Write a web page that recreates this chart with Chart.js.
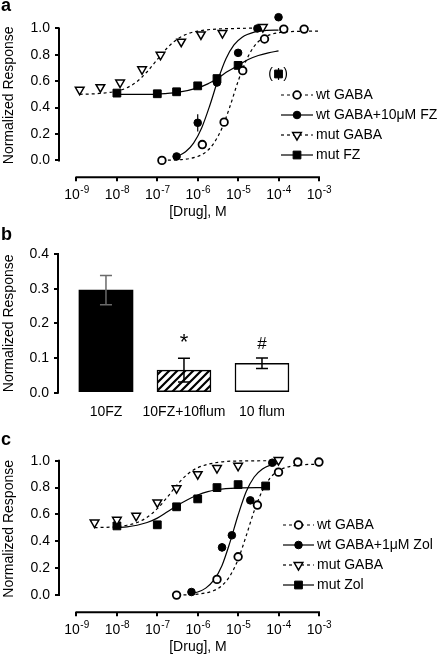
<!DOCTYPE html>
<html lang="en">
<head>
<meta charset="utf-8">
<title>GABA concentration-response</title>
<script src="https://cdn.jsdelivr.net/npm/chart.js@4.4.1/dist/chart.umd.min.js"></script>
<style>
  html, body { margin: 0; padding: 0; background: #fff; }
  body { position: relative; width: 442px; height: 658px; overflow: hidden; }
  canvas { position: absolute; left: 0; }
</style>
</head>
<body>
<canvas id="panelA" width="442" height="222" style="top:0"></canvas>
<canvas id="panelB" width="442" height="208" style="top:220px"></canvas>
<canvas id="panelC" width="442" height="226" style="top:432px"></canvas>
<script>
// ---------- shared ticks ----------
const doseTicks = [1e-9, 1e-8, 1e-7, 1e-6, 1e-5, 1e-4, 1e-3];
const doseTickExp = ['-9', '-8', '-7', '-6', '-5', '-4', '-3'];
const responseTicks = [0, 0.2, 0.4, 0.6, 0.8, 1.0];

// ---------- panel a : FZ ----------
const aWtGabaX = [1.3e-7, 1.3e-6, 4.5e-6, 1.3e-5, 4.5e-5, 1.35e-4, 4.3e-4];
const aWtGabaY = [0.0, 0.12, 0.29, 0.68, 0.92, 0.995, 0.995];
const aWtFzX = [3e-7, 1e-6, 3e-6, 1e-5, 3e-5, 1e-4];
const aWtFzY = [0.03, 0.285, 0.59, 0.815, 1.0, 1.085];
const aWtFzErr = [0, 0.065, 0, 0, 0, 0.025];
const aMutGabaX = [1.2e-9, 3.9e-9, 1.2e-8, 4.2e-8, 1.2e-7, 3.9e-7, 1.2e-6, 4.1e-6, 4.1e-5];
const aMutGabaY = [0.535, 0.555, 0.59, 0.69, 0.80, 0.90, 0.955, 0.965, 1.01];
const aMutFzX = [1e-8, 1e-7, 3e-7, 1e-6, 3e-6, 1e-5, 1e-4];
const aMutFzY = [0.51, 0.505, 0.52, 0.565, 0.62, 0.72, 0.655];
const aMutFzErr = [0, 0, 0, 0.02, 0, 0, 0.045];
const aMutFzExcluded = [false, false, false, false, false, false, true];

// fitted curves
const aWtGabaFitX = [1.3e-7, 4e-7, 1e-6, 1.6e-6, 2.5e-6, 4e-6, 6.3e-6, 1e-5, 1.6e-5, 2.5e-5, 4e-5, 1e-4, 3.2e-4, 1e-3];
const aWtGabaFitY = [0.001, 0.006, 0.03, 0.064, 0.13, 0.245, 0.41, 0.60, 0.76, 0.865, 0.925, 0.968, 0.978, 0.98];
const aWtFzFitX = [3.16e-7, 5e-7, 7.9e-7, 1.26e-6, 2e-6, 3.16e-6, 5e-6, 7.9e-6, 1.26e-5, 2.5e-5, 5e-5, 1e-4];
const aWtFzFitY = [0.031, 0.065, 0.131, 0.248, 0.418, 0.609, 0.77, 0.875, 0.934, 0.972, 0.985, 0.988];
const aMutGabaFitX = [1.2e-9, 3.16e-9, 1e-8, 1.78e-8, 3.16e-8, 5.6e-8, 1e-7, 1.78e-7, 3.16e-7, 5.6e-7, 1e-6, 3.16e-6, 1e-5, 4.1e-5];
const aMutGabaFitY = [0.501, 0.506, 0.525, 0.551, 0.598, 0.672, 0.765, 0.854, 0.92, 0.959, 0.98, 0.996, 1.0, 1.005];
const aMutFzFitX = [1e-8, 3.16e-8, 1e-7, 3.16e-7, 1e-6, 1.78e-6, 3.16e-6, 5.6e-6, 1e-5, 1.78e-5, 3.16e-5, 5.6e-5, 1e-4];
const aMutFzFitY = [0.50, 0.50, 0.503, 0.515, 0.55, 0.58, 0.625, 0.675, 0.72, 0.765, 0.795, 0.815, 0.83];

// ---------- panel b : flumazenil ----------
const bCats = ['10FZ', '10FZ+10flum', '10 flum'];
const bMean = [0.296, 0.065, 0.085];
const bSem = [0.042, 0.034, 0.015];
const bMarks = ['', '*', '#'];
const bTicks = [0, 0.1, 0.2, 0.3, 0.4];

// ---------- panel c : Zol ----------
const cWtGabaX = [3e-7, 3e-6, 1e-5, 3e-5, 1e-4, 3e-4, 1e-3];
const cWtGabaY = [0.0, 0.117, 0.285, 0.67, 0.915, 0.99, 0.99];
const cWtZolX = [7e-7, 4e-6, 7e-6, 2e-5, 7e-5];
const cWtZolY = [0.023, 0.355, 0.445, 0.705, 0.985];
const cWtZolErr = [0, 0.03, 0, 0.015, 0];
const cMutGabaX = [2.8e-9, 1e-8, 3e-8, 1e-7, 3e-7, 1e-6, 3e-6, 1e-5, 1e-4];
const cMutGabaY = [0.54, 0.56, 0.59, 0.69, 0.795, 0.90, 0.945, 0.962, 1.005];
const cMutZolX = [1e-8, 1e-7, 3e-7, 1e-6, 3e-6, 1e-5, 4.8e-5];
const cMutZolY = [0.515, 0.523, 0.657, 0.716, 0.80, 0.822, 0.812];
const cMutZolErr = [0, 0, 0, 0, 0, 0.02, 0.02];

const cWtGabaFitX = [3.16e-7, 1e-6, 2.5e-6, 4e-6, 6.3e-6, 1e-5, 1.58e-5, 2.5e-5, 4e-5, 6.3e-5, 1e-4, 2e-4, 4e-4, 1e-3];
const cWtGabaFitY = [0.001, 0.007, 0.034, 0.071, 0.143, 0.266, 0.44, 0.627, 0.778, 0.874, 0.926, 0.959, 0.97, 0.974];
const cWtZolFitX = [6.9e-7, 1e-6, 1.58e-6, 2.5e-6, 4e-6, 6.3e-6, 1e-5, 1.58e-5, 2.5e-5, 4e-5, 6.3e-5, 1e-4];
const cWtZolFitY = [0.012, 0.023, 0.052, 0.111, 0.221, 0.394, 0.596, 0.769, 0.879, 0.938, 0.967, 0.98];
const cMutGabaFitX = [2.8e-9, 1e-8, 1.78e-8, 3.16e-8, 5.6e-8, 1e-7, 1.78e-7, 3.16e-7, 5.6e-7, 1e-6, 3.16e-6, 1e-5, 1e-4];
const cMutGabaFitY = [0.502, 0.509, 0.52, 0.54, 0.579, 0.643, 0.73, 0.824, 0.90, 0.948, 0.988, 0.998, 1.0];
const cMutZolFitX = [1e-8, 1.78e-8, 3.16e-8, 5.6e-8, 1e-7, 1.78e-7, 3.16e-7, 5.6e-7, 1e-6, 1.78e-6, 3.16e-6, 1e-5, 4.8e-5];
const cMutZolFitY = [0.502, 0.508, 0.52, 0.54, 0.573, 0.62, 0.668, 0.71, 0.745, 0.77, 0.786, 0.797, 0.80];

// =============================================
// styles + plugins
// =============================================
const FAMILY = '"Liberation Sans", Arial, Helvetica, sans-serif';
const FONT = { family: FAMILY, size: 14 };
Chart.defaults.font.family = FAMILY;
Chart.defaults.color = '#000';

const markers = {
  openCircle: { pointStyle: 'circle', pointRadius: 3.8, pointBackgroundColor: '#fff', pointBorderWidth: 1.8, pointRotation: 0 },
  dot: { pointStyle: 'circle', pointRadius: 3.8, pointBackgroundColor: '#000', pointBorderWidth: 1, pointRotation: 0 },
  openTriangle: { pointStyle: 'triangle', pointRadius: 5, pointBackgroundColor: '#fff', pointBorderWidth: 1.5, pointRotation: 180 },
  square: { pointStyle: 'rect', pointRadius: 5.5, pointBackgroundColor: '#000', pointBorderWidth: 1, pointRotation: 0 }
};

// axis lines only span first..last tick (offset axes look)
const axisLines = {
  id: 'axisLines',
  afterDraw(chart, args, o) {
    const { ctx, chartArea: a, scales } = chart;
    ctx.save();
    ctx.strokeStyle = '#000';
    ctx.lineWidth = 2;
    (o.axes || ['x', 'y']).forEach(k => {
      const s = scales[k], t = s.ticks;
      const p0 = s.getPixelForValue(t[0].value);
      const p1 = s.getPixelForValue(t[t.length - 1].value);
      ctx.beginPath();
      if (k === 'x') { ctx.moveTo(p0 - 1, a.bottom); ctx.lineTo(p1 + 1, a.bottom); }
      else { ctx.moveTo(a.left, p0 + 1); ctx.lineTo(a.left, p1 - 1); }
      ctx.stroke();
    });
    ctx.restore();
  }
};

// "10" with raised exponent
const doseLabels = {
  id: 'doseLabels',
  afterDraw(chart) {
    const { ctx, chartArea: a, scales: { x } } = chart;
    const yc = a.bottom + 17.5;
    ctx.save();
    ctx.fillStyle = '#000';
    ctx.textBaseline = 'middle';
    ctx.textAlign = 'left';
    doseTicks.forEach((v, i) => {
      const px = x.getPixelForValue(v);
      ctx.font = `14px ${FAMILY}`;
      const wBase = ctx.measureText('10').width;
      ctx.font = `10px ${FAMILY}`;
      const wExp = ctx.measureText(doseTickExp[i]).width;
      const x0 = px - (wBase + wExp) / 2;
      ctx.font = `14px ${FAMILY}`;
      ctx.fillText('10', x0, yc);
      ctx.font = `10px ${FAMILY}`;
      ctx.fillText(doseTickExp[i], x0 + wBase + 0.5, yc - 5);
    });
    ctx.restore();
  }
};

const errorBars = {
  id: 'errorBars',
  beforeDatasetsDraw(chart) {
    const { ctx, scales: { x, y } } = chart;
    ctx.save();
    ctx.strokeStyle = '#000';
    ctx.fillStyle = '#000';
    ctx.lineWidth = 1.2;
    chart.data.datasets.forEach(ds => {
      ds.data.forEach((p, i) => {
        const px = x.getPixelForValue(p.x);
        const e = ds.err ? ds.err[i] : 0;
        if (e) {
          ctx.beginPath();
          ctx.moveTo(px, y.getPixelForValue(p.y - e));
          ctx.lineTo(px, y.getPixelForValue(p.y + e));
          ctx.stroke();
        }
        if (ds.excluded && ds.excluded[i]) {
          const py = y.getPixelForValue(p.y);
          ctx.font = `14px ${FAMILY}`;
          ctx.textAlign = 'center';
          ctx.textBaseline = 'middle';
          ctx.fillText('(', px - 8, py);
          ctx.fillText(')', px + 7, py);
        }
      });
    });
    ctx.restore();
  }
};

// legend: dashed/solid line with the marker in the middle
const curveLegend = {
  id: 'curveLegend',
  afterDraw(chart, args, o) {
    const { ctx } = chart;
    const sets = chart.data.datasets;
    const n = sets.length / 2;
    ctx.save();
    for (let i = 0; i < n; i++) {
      const pts = sets[i], fit = sets[i + n];
      const y = o.y0 + i * o.dy;
      ctx.strokeStyle = '#000';
      ctx.lineWidth = 1.2;
      ctx.setLineDash(fit.borderDash || []);
      ctx.beginPath();
      ctx.moveTo(o.x0, y);
      ctx.lineTo(o.x1, y);
      ctx.stroke();
      ctx.setLineDash([]);
      ctx.fillStyle = pts.pointBackgroundColor;
      ctx.lineWidth = pts.pointBorderWidth;
      Chart.helpers.drawPoint(ctx, {
        pointStyle: pts.pointStyle, rotation: pts.pointRotation,
        radius: pts.pointRadius, borderWidth: pts.pointBorderWidth
      }, (o.x0 + o.x1) / 2, y);
      ctx.fillStyle = '#000';
      ctx.font = `14px ${FAMILY}`;
      ctx.textAlign = 'left';
      ctx.textBaseline = 'middle';
      ctx.fillText(pts.label, o.tx, y);
    }
    ctx.restore();
  }
};

const panelTag = {
  id: 'panelTag',
  afterDraw(chart, args, o) {
    const { ctx } = chart;
    ctx.save();
    ctx.fillStyle = '#000';
    ctx.font = `bold 18px ${FAMILY}`;
    ctx.textBaseline = 'alphabetic';
    ctx.fillText(o.text, 1, o.y);
    ctx.restore();
  }
};

// =============================================
// dose-response panels (a, c)
// =============================================
function doseChart(id, cfg) {
  const pointSets = cfg.series.map(s => ({
    label: s.label,
    data: s.x.map((v, i) => ({ x: v, y: s.y[i] })),
    showLine: false,
    pointBorderColor: '#000',
    err: s.err,
    excluded: s.excluded,
    clip: false,
    ...markers[s.marker]
  }));
  const fitSets = cfg.series.map(s => ({
    data: s.fitX.map((v, i) => ({ x: v, y: s.fitY[i] })),
    showLine: true,
    borderColor: '#000',
    borderWidth: 1.2,
    borderDash: s.dashed ? [3, 3] : [],
    pointRadius: 0,
    cubicInterpolationMode: 'monotone',
    clip: false
  }));

  return new Chart(document.getElementById(id), {
    type: 'scatter',
    data: { datasets: [...pointSets, ...fitSets] },
    options: {
      responsive: false,
      animation: false,
      devicePixelRatio: 1,
      layout: { padding: { top: cfg.padTop, right: 105, bottom: 0, left: 0 } },
      plugins: {
        legend: { display: false },
        tooltip: { enabled: false },
        curveLegend: cfg.legend,
        panelTag: cfg.tag
      },
      scales: {
        x: {
          type: 'logarithmic',
          min: 3.69e-10,
          max: 2.8e-3,
          afterBuildTicks: s => { s.ticks = doseTicks.map(v => ({ value: v })); },
          afterFit: s => { s.height = cfg.xHeight; },
          grid: { drawOnChartArea: false, drawTicks: true, tickLength: 4, color: '#000', lineWidth: 2 },
          border: { display: false },
          ticks: { display: false },
          title: { display: true, text: '[Drug], M', font: FONT, color: '#000', padding: { top: 0, bottom: cfg.titlePad } }
        },
        y: {
          min: -0.128,
          max: 1.114,
          afterBuildTicks: s => { s.ticks = responseTicks.map(v => ({ value: v })); },
          afterFit: s => { s.width = 59; },
          grid: { drawOnChartArea: false, drawTicks: true, tickLength: 4, color: '#000', lineWidth: 2 },
          border: { display: false },
          ticks: { padding: 5, font: FONT, color: '#000', callback: v => v.toFixed(1) },
          title: { display: true, text: 'Normalized Response', font: FONT, color: '#000', padding: { top: 1, bottom: 0 } }
        }
      }
    },
    plugins: [errorBars, axisLines, doseLabels, curveLegend, panelTag]
  });
}

doseChart('panelA', {
  padTop: 1.9, xHeight: 44.7, titlePad: 1.6,
  legend: { x0: 281, x1: 313, tx: 316, y0: 95, dy: 20 },
  tag: { text: 'a', y: 11 },
  series: [
    { label: 'wt GABA', x: aWtGabaX, y: aWtGabaY, fitX: aWtGabaFitX, fitY: aWtGabaFitY, marker: 'openCircle', dashed: true },
    { label: 'wt GABA+10\u03bcM FZ', x: aWtFzX, y: aWtFzY, err: aWtFzErr, fitX: aWtFzFitX, fitY: aWtFzFitY, marker: 'dot', dashed: false },
    { label: 'mut GABA', x: aMutGabaX, y: aMutGabaY, fitX: aMutGabaFitX, fitY: aMutGabaFitY, marker: 'openTriangle', dashed: true },
    { label: 'mut FZ', x: aMutFzX, y: aMutFzY, err: aMutFzErr, excluded: aMutFzExcluded, fitX: aMutFzFitX, fitY: aMutFzFitY, marker: 'square', dashed: false }
  ]
});

doseChart('panelC', {
  padTop: 4, xHeight: 45.7, titlePad: 2.6,
  legend: { x0: 283, x1: 314, tx: 317, y0: 93, dy: 20 },
  tag: { text: 'c', y: 13 },
  series: [
    { label: 'wt GABA', x: cWtGabaX, y: cWtGabaY, fitX: cWtGabaFitX, fitY: cWtGabaFitY, marker: 'openCircle', dashed: true },
    { label: 'wt GABA+1\u03bcM Zol', x: cWtZolX, y: cWtZolY, err: cWtZolErr, fitX: cWtZolFitX, fitY: cWtZolFitY, marker: 'dot', dashed: false },
    { label: 'mut GABA', x: cMutGabaX, y: cMutGabaY, fitX: cMutGabaFitX, fitY: cMutGabaFitY, marker: 'openTriangle', dashed: true },
    { label: 'mut Zol', x: cMutZolX, y: cMutZolY, err: cMutZolErr, fitX: cMutZolFitX, fitY: cMutZolFitY, marker: 'square', dashed: false }
  ]
});

// =============================================
// panel b: bars with SEM
// =============================================
function makeHatch() {
  const c = document.createElement('canvas');
  c.width = 8; c.height = 8;
  const g = c.getContext('2d');
  g.fillStyle = '#fff';
  g.fillRect(0, 0, 8, 8);
  g.strokeStyle = '#000';
  g.lineWidth = 2.2;
  g.beginPath();
  g.moveTo(0, 8); g.lineTo(8, 0);
  g.moveTo(-2, 2); g.lineTo(2, -2);
  g.moveTo(6, 10); g.lineTo(10, 6);
  g.stroke();
  return g.createPattern(c, 'repeat');
}

const barErrors = {
  id: 'barErrors',
  afterDatasetsDraw(chart) {
    const { ctx, scales: { x, y } } = chart;
    const ds = chart.data.datasets[0];
    const errColors = ['#6a6a6a', '#000', '#000'];
    ctx.save();
    ds.data.forEach((p, i) => {
      const px = x.getPixelForValue(p.x);
      const hi = y.getPixelForValue(p.y + ds.err[i]);
      const lo = y.getPixelForValue(p.y - ds.err[i]);
      ctx.strokeStyle = errColors[i];
      ctx.lineWidth = 1.5;
      ctx.beginPath();
      ctx.moveTo(px, lo); ctx.lineTo(px, hi);
      ctx.moveTo(px - 6, hi); ctx.lineTo(px + 6, hi);
      ctx.moveTo(px - 6, lo); ctx.lineTo(px + 6, lo);
      ctx.stroke();
      if (ds.marks[i]) {
        ctx.fillStyle = '#000';
        ctx.font = `${ds.marks[i] === '*' ? 22 : 17}px ${FAMILY}`;
        ctx.textAlign = 'center';
        ctx.textBaseline = 'alphabetic';
        ctx.fillText(ds.marks[i], px, hi - 9.5);
      }
    });
    ctx.restore();
  }
};

new Chart(document.getElementById('panelB'), {
  type: 'bar',
  data: {
    datasets: [{
      data: bCats.map((c, i) => ({ x: i, y: bMean[i] })),
      backgroundColor: ['#000', makeHatch(), '#fff'],
      borderColor: '#000',
      borderWidth: [0, 1.5, 1.5],
      borderSkipped: false,
      barThickness: 54,
      err: bSem,
      marks: bMarks
    }]
  },
  options: {
    responsive: false,
    animation: false,
    devicePixelRatio: 1,
    layout: { padding: { top: 34, right: 112, bottom: 0, left: 0 } },
    plugins: {
      legend: { display: false },
      tooltip: { enabled: false },
      axisLines: { axes: ['y'] },
      panelTag: { text: 'b', y: 20 }
    },
    scales: {
      x: {
        type: 'linear',
        offset: false,
        bounds: 'data',
        min: -0.615,
        max: 2.872,
        afterBuildTicks: s => { s.ticks = bCats.map((c, i) => ({ value: i })); },
        afterFit: s => { s.height = 35.3; },
        grid: { display: false, drawTicks: false, offset: false },
        border: { display: false },
        ticks: { padding: 11, font: FONT, color: '#000', autoSkip: false, maxRotation: 0, callback: v => bCats[v] }
      },
      y: {
        min: 0,
        max: 0.4,
        afterBuildTicks: s => { s.ticks = bTicks.map(v => ({ value: v })); },
        afterFit: s => { s.width = 58; },
        grid: { drawOnChartArea: false, drawTicks: true, tickLength: 4, color: '#000', lineWidth: 2 },
        border: { display: false },
        ticks: { padding: 5, font: FONT, color: '#000', callback: v => v.toFixed(1) },
        title: { display: true, text: 'Normalized Response', font: FONT, color: '#000', padding: { top: 1, bottom: 0 } }
      }
    }
  },
  plugins: [barErrors, axisLines, panelTag]
});
</script>
</body>
</html>
